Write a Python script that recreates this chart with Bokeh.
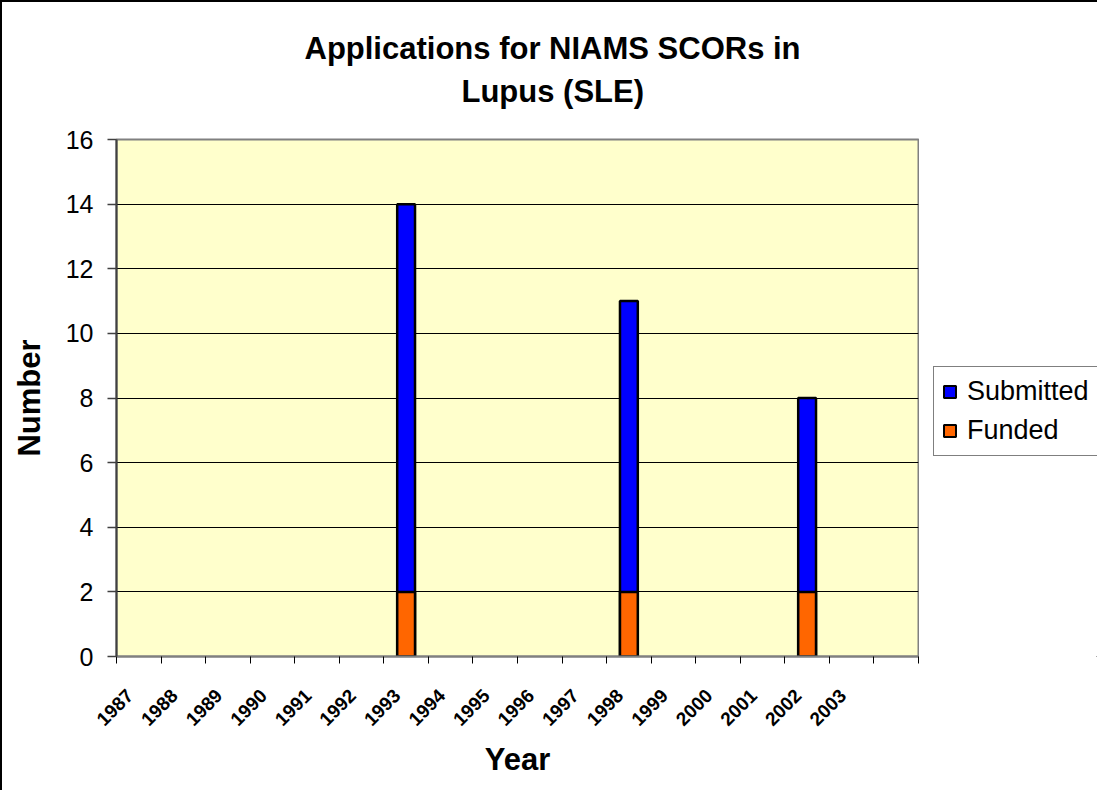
import math
from bokeh.plotting import figure
from bokeh.layouts import row
from bokeh.models import FixedTicker, Title, Legend, LegendItem
from bokeh.embed import file_html
from bokeh.resources import INLINE

# ---- data ----
years = [str(y) for y in range(1987, 2004)] + [""]
bar_years = ["1993", "1998", "2002"]
submitted = [14, 11, 8]
funded = [2, 2, 2]
y_ticks = [0, 2, 4, 6, 8, 10, 12, 14, 16]
title_lines = ["Applications for NIAMS SCORs in", "Lupus (SLE)"]
series_names = ["Submitted", "Funded"]
series_colors = ["#0000FF", "#FF6600"]

FONT = "Liberation Sans"

xs = [years.index(y) + 0.5 for y in bar_years]

p = figure(width=919, height=790, output_backend="svg", toolbar_location=None,
           x_range=(0, len(years)), y_range=(0, 16),
           min_border_left=114, min_border_right=3,
           min_border_top=137, min_border_bottom=136)
p.styles = {"border-top": "2px solid black", "border-left": "2px solid black"}
p.background_fill_color = "#FFFFCC"
p.border_fill_color = "white"
p.outline_line_color = "#808080"
p.outline_line_width = 2

# bars
p.vbar(x=xs, top=submitted, width=0.4, fill_color=series_colors[0],
       line_color="black", line_width=2.5)
p.vbar(x=xs, top=funded, width=0.4, fill_color=series_colors[1],
       line_color="black", line_width=2.5)

# x axis
xa = p.xaxis[0]
xa.ticker = FixedTicker(ticks=[i + 0.3 for i in range(len(years))],
                        minor_ticks=list(range(len(years) + 1)))
xa.major_label_overrides = {i + 0.3: years[i] for i in range(len(years))}
xa.major_tick_line_color = None
xa.minor_tick_line_color = "black"
xa.minor_tick_line_width = 1
xa.minor_tick_out = 7
xa.minor_tick_in = 0
xa.axis_line_color = "#808080"
xa.axis_line_width = 2
xa.major_label_orientation = math.pi / 4
xa.major_label_text_font = FONT
xa.major_label_text_font_style = "bold"
xa.major_label_text_font_size = "19px"
xa.major_label_text_color = "black"
xa.major_label_standoff = 29
xa.axis_label = "Year"
xa.axis_label_text_font = FONT
xa.axis_label_text_font_style = "bold"
xa.axis_label_text_font_size = "31px"
xa.axis_label_text_color = "black"
xa.axis_label_standoff = 7

# y axis
ya = p.yaxis[0]
ya.ticker = FixedTicker(ticks=y_ticks)
ya.minor_tick_line_color = None
ya.major_tick_out = 9
ya.major_tick_in = 0
ya.major_tick_line_color = "#404040"
ya.major_tick_line_width = 1.5
ya.axis_line_color = "#404040"
ya.axis_line_width = 2
ya.major_label_text_font = FONT
ya.major_label_text_font_size = "25px"
ya.major_label_text_color = "black"
ya.major_label_standoff = 14
ya.axis_label = "Number"
ya.axis_label_text_font = FONT
ya.axis_label_text_font_style = "bold"
ya.axis_label_text_font_size = "31px"
ya.axis_label_text_color = "black"
ya.axis_label_standoff = 16

# grid
p.xgrid.visible = False
p.ygrid.ticker = FixedTicker(ticks=y_ticks[1:-1])
p.ygrid.grid_line_color = "black"
p.ygrid.grid_line_width = 1

# title: spacer closest to the frame, then two lines (later-added sits higher)
p.add_layout(Title(text=" ", text_font_size="20px", standoff=7), "above")
for txt, off, so in [(title_lines[1], 345, 0), (title_lines[0], 188, 12)]:
    p.add_layout(Title(text=txt, align="left", offset=off, standoff=so,
                       text_font=FONT, text_font_style="bold",
                       text_font_size="31px", text_color="black"), "above")

# legend panel (separate narrow figure to the right, same look)
q = figure(width=178, height=790, output_backend="svg", toolbar_location=None,
           x_range=(0, 1), y_range=(0, 1),
           x_axis_location=None, y_axis_location=None,
           min_border=0)
q.styles = {"border-top": "2px solid black"}
q.outline_line_color = None
q.background_fill_color = "white"
q.border_fill_color = "white"
q.grid.visible = False
items = []
for i, (name, col) in enumerate(zip(series_names, series_colors)):
    # legend proxy glyphs, placed outside the visible range of this panel
    r = q.vbar(x=[10 + i], bottom=[-3], top=[-2], width=0.4, fill_color=col,
               line_color="black", line_width=2)
    items.append(LegendItem(label=name, renderers=[r]))

legend = Legend(items=items, location=(14, 200))
legend.label_text_font = FONT
legend.label_text_font_size = "27px"
legend.label_text_color = "black"
legend.glyph_width = 15
legend.glyph_height = 15
legend.label_height = 33
legend.label_width = 160
legend.border_line_color = "black"
legend.border_line_width = 1
legend.background_fill_color = "white"
legend.background_fill_alpha = 1
legend.padding = 8
legend.spacing = 6
legend.margin = 0
legend.label_standoff = 10
q.add_layout(legend, "center")

layout = row(p, q)
open("out.html", "w").write(file_html(layout, INLINE))
